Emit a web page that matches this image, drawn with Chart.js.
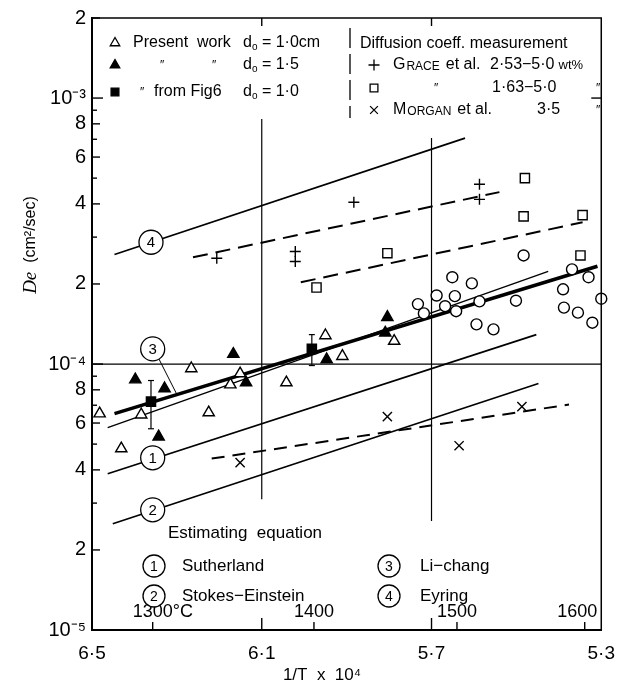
<!DOCTYPE html>
<html>
<head>
<meta charset="utf-8">
<script src="https://cdn.jsdelivr.net/npm/chart.js@4.4.1/dist/chart.umd.min.js"></script>
<style>
  html, body { margin: 0; padding: 0; background: #fff; }
</style>
</head>
<body>
<canvas id="deChart" width="627" height="686"></canvas>
<script>
// De (cm2/sec) against 1/T x 10^4, log y axis

const xTickValues = [6.5, 6.1, 5.7, 5.3];
const xTickLabels = ['6·5', '6·1', '5·7', '5·3'];
const yLabelValues = [1e-5, 2e-5, 4e-5, 6e-5, 8e-5, 1e-4, 2e-4, 4e-4, 6e-4, 8e-4, 1e-3, 2e-3];
const yLabelTexts = ['10⁻⁵', '2', '4', '6', '8', '10⁻⁴', '2', '4', '6', '8', '10⁻³', '2'];
const yMinorValues = [3e-5, 5e-5, 7e-5, 9e-5, 3e-4, 5e-4, 7e-4, 9e-4];
const tempLabels = ['1300°C', '1400', '1500', '1600'];
const tempX = [6.357, 5.977, 5.640, 5.339];

// present work d0 = 1.0cm (open triangles)
const openTriX = [6.482, 6.431, 6.384, 6.266, 6.225, 6.174, 6.151, 6.042, 5.950, 5.910, 5.788];
const openTriY = [6.51e-5, 4.81e-5, 6.45e-5, 9.62e-5, 6.57e-5, 8.37e-5, 9.21e-5, 8.52e-5, 1.28e-4, 1.07e-4, 1.22e-4];
// present work d0 = 1.5 (filled triangles)
const fillTriX = [6.398, 6.329, 6.343, 6.167, 6.137, 5.947, 5.804, 5.809];
const fillTriY = [8.74e-5, 8.09e-5, 5.33e-5, 1.09e-4, 8.52e-5, 1.04e-4, 1.50e-4, 1.31e-4];
// from Fig6 d0 = 1.0 (filled squares with error bars)
const fig6X = [6.361, 5.982];
const fig6Y = [7.22e-5, 1.14e-4];
const fig6Low = [5.71e-5, 9.87e-5];
const fig6High = [8.67e-5, 1.29e-4];
// Grace et al. 2.53-5.0 wt% (+)
const graceX = [6.206, 6.021, 6.021, 5.883, 5.587, 5.587];
const graceY = [2.50e-4, 2.65e-4, 2.43e-4, 4.06e-4, 4.74e-4, 4.16e-4];
// Grace et al. 1.63-5.0 (open squares)
const grace2X = [5.971, 5.804, 5.480, 5.483, 5.344, 5.349];
const grace2Y = [1.94e-4, 2.61e-4, 5.00e-4, 3.59e-4, 3.63e-4, 2.56e-4];
// Morgan et al. 3.5 (x)
const morganX = [6.151, 5.804, 5.635, 5.487];
const morganY = [4.26e-5, 6.34e-5, 4.93e-5, 6.92e-5];
// open circles
const circX = [5.732, 5.718, 5.688, 5.668, 5.651, 5.645, 5.642, 5.605, 5.587, 5.594, 5.554, 5.501, 5.483, 5.390, 5.388, 5.369, 5.355, 5.330, 5.321, 5.300];
const circY = [1.68e-4, 1.55e-4, 1.81e-4, 1.65e-4, 2.12e-4, 1.80e-4, 1.58e-4, 2.01e-4, 1.72e-4, 1.41e-4, 1.35e-4, 1.73e-4, 2.56e-4, 1.91e-4, 1.63e-4, 2.27e-4, 1.56e-4, 2.12e-4, 1.43e-4, 1.76e-4];

// estimating equations and fits (end points)
const eyringX = [6.447, 5.621];      const eyringY = [2.58e-4, 7.07e-4];
const graceFitX = [6.262, 5.540];    const graceFitY = [2.52e-4, 4.43e-4];
const grace2FitX = [6.008, 5.344];   const grace2FitY = [2.03e-4, 3.41e-4];
const morganFitX = [6.218, 5.376];   const morganFitY = [4.41e-5, 7.04e-5];
const sutherlandX = [6.463, 5.453];  const sutherlandY = [3.87e-5, 1.29e-4];
const stokesX = [6.451, 5.448];      const stokesY = [2.51e-5, 8.45e-5];
const lichangX = [6.447, 5.309];     const lichangY = [6.51e-5, 2.33e-4];
const presentFitX = [6.463, 5.425];  const presentFitY = [5.77e-5, 2.23e-4];
// reference lines
const vLine61Y = [8.34e-4, 3.1e-5];
const vLine57Y = [7.07e-4, 2.57e-5];
const hLineX = [6.5, 5.3];           const hLineY = [1e-4, 1e-4];
const leader3X = [6.343, 6.301];     const leader3Y = [1.05e-4, 7.74e-5];
// circled equation numbers on the lines
const numTexts = ['4', '1', '2', '3'];
const numX = [6.361, 6.357, 6.357, 6.357];
const numY = [2.87e-4, 4.44e-5, 2.83e-5, 1.14e-4];

const FONT = "'Liberation Sans', Arial, sans-serif";

const toPts = (xs, ys) => xs.map((x, i) => ({x: x, y: ys[i]}));

function lineSet(xs, ys, width, dash) {
  return {
    type: 'line', data: toPts(xs, ys), borderColor: '#000', borderWidth: width,
    borderDash: dash || [], pointRadius: 0, fill: false, tension: 0, order: 5
  };
}

function pointSet(xs, ys, style, radius, bg) {
  return {
    type: 'scatter', data: toPts(xs, ys), pointStyle: style, pointRadius: radius,
    pointBackgroundColor: bg, pointBorderColor: '#000', pointBorderWidth: 1.4,
    showLine: false, clip: 12, order: 1
  };
}

function txt(ctx, s, x, y, size, align, font) {
  ctx.font = (font || (size + 'px ' + FONT));
  ctx.textAlign = align || 'left';
  ctx.textBaseline = 'middle';
  ctx.fillText(s, x, y);
  return x + ctx.measureText(s).width;
}

function dSub(ctx, x, y, size) {
  let nx = txt(ctx, 'd', x, y, size);
  return txt(ctx, 'o', nx, y + 4, Math.round(size * 0.65));
}

function smallCaps(ctx, word, x, y, big, small) {
  let nx = txt(ctx, word[0], x, y, big);
  return txt(ctx, word.slice(1), nx + 1, y + (big - small) * 0.36, small);
}

function marker(ctx, style, x, y, r, fill) {
  ctx.save();
  ctx.fillStyle = fill;
  ctx.strokeStyle = '#000';
  ctx.lineWidth = 1.3;
  Chart.helpers.drawPoint(ctx, {pointStyle: style, radius: r, rotation: 0, borderWidth: 1.3}, x, y);
  ctx.restore();
}

function circled(ctx, s, x, y, r, size) {
  ctx.beginPath();
  ctx.arc(x, y, r, 0, Math.PI * 2);
  ctx.fillStyle = '#fff';
  ctx.fill();
  ctx.lineWidth = 1.3;
  ctx.strokeStyle = '#000';
  ctx.stroke();
  ctx.fillStyle = '#000';
  txt(ctx, s, x, y + 1, size, 'center');
}

function seg(ctx, x0, y0, x1, y1) {
  ctx.beginPath();
  ctx.moveTo(x0, y0);
  ctx.lineTo(x1, y1);
  ctx.stroke();
}

const decorPlugin = {
  id: 'decor',
  afterDatasetsDraw(chart) {
    const ctx = chart.ctx;
    const ca = chart.chartArea;
    const xs = chart.scales.x, ys = chart.scales.y;
    ctx.save();
    ctx.strokeStyle = '#000';
    ctx.fillStyle = '#000';

    // top and right frame
    ctx.lineWidth = 1.5;
    ctx.beginPath();
    ctx.moveTo(ca.left, ca.top);
    ctx.lineTo(ca.right, ca.top);
    ctx.lineTo(ca.right, ca.bottom);
    ctx.stroke();

    // inward ticks on the left axis
    ctx.lineWidth = 1.4;
    yLabelValues.forEach(v => {
      const lg = Math.log10(v);
      const len = Math.abs(lg - Math.round(lg)) < 1e-6 ? 11 : 8;
      const py = ys.getPixelForValue(v);
      seg(ctx, ca.left, py, ca.left + len, py);
    });
    yMinorValues.forEach(v => {
      const py = ys.getPixelForValue(v);
      seg(ctx, ca.left, py, ca.left + 5, py);
    });
    // right axis tick at 10^-3
    const p3 = ys.getPixelForValue(1e-3);
    seg(ctx, ca.right, p3, ca.right - 10, p3);

    // top and bottom ticks at inner x labels
    xTickValues.slice(1, -1).forEach(v => {
      const px = xs.getPixelForValue(v);
      seg(ctx, px, ca.top, px, ca.top + 8);
      seg(ctx, px, ca.bottom, px, ca.bottom - 12);
    });

    // temperature scale
    tempX.forEach((v, i) => {
      const px = xs.getPixelForValue(v);
      seg(ctx, px, ca.bottom, px, ca.bottom - 8);
      ctx.font = '18px ' + FONT;
      const num = tempLabels[i].replace('°C', '');
      let left = px - ctx.measureText(num).width / 2;
      const full = ctx.measureText(tempLabels[i]).width;
      if (left + full > ca.right - 4) left = ca.right - 4 - full;
      txt(ctx, tempLabels[i], left, ca.bottom - 18, 18);
    });

    // error bars for Fig6 squares
    ctx.lineWidth = 1.2;
    fig6X.forEach((v, i) => {
      const px = xs.getPixelForValue(v);
      const lo = ys.getPixelForValue(fig6Low[i]);
      const hi = ys.getPixelForValue(fig6High[i]);
      seg(ctx, px, lo, px, hi);
      seg(ctx, px - 3, lo, px + 3, lo);
      seg(ctx, px - 3, hi, px + 3, hi);
    });

    // circled numbers on the lines
    numTexts.forEach((s, i) => {
      circled(ctx, s, xs.getPixelForValue(numX[i]), ys.getPixelForValue(numY[i]), 12, 15);
    });

    // legend, top left
    ctx.fillStyle = '#000';
    marker(ctx, 'triangle', 115, 43, 5.5, '#fff');
    txt(ctx, 'Present  work', 133, 43, 16);
    let nx = dSub(ctx, 243, 43, 16);
    txt(ctx, ' = 1·0cm', nx, 43, 16);
    marker(ctx, 'triangle', 115, 65, 5.5, '#000');
    txt(ctx, '″', 160, 66, 12);
    txt(ctx, '″', 212, 66, 12);
    nx = dSub(ctx, 243, 65, 16);
    txt(ctx, ' = 1·5', nx, 65, 16);
    marker(ctx, 'rect', 115, 92, 5.5, '#000');
    txt(ctx, '″', 140, 93, 12);
    txt(ctx, 'from Fig6', 154, 92, 16);
    nx = dSub(ctx, 243, 92, 16);
    txt(ctx, ' = 1·0', nx, 92, 16);

    // legend, top right
    ctx.lineWidth = 1.3;
    ctx.setLineDash([20, 6]);
    seg(ctx, 350, 28, 350, 118);
    ctx.setLineDash([]);
    txt(ctx, 'Diffusion coeff. measurement', 360, 44, 16);
    marker(ctx, 'cross', 374, 65, 5.5, '#000');
    nx = smallCaps(ctx, 'GRACE', 393, 65, 16, 12);
    txt(ctx, 'et al.', nx + 6, 65, 16);
    nx = txt(ctx, '2·53−5·0', 490, 65, 16);
    txt(ctx, 'wt%', nx + 4, 65, 13);
    marker(ctx, 'rect', 374, 88, 5.5, '#fff');
    txt(ctx, '″', 434, 89, 12);
    txt(ctx, '1·63−5·0', 492, 88, 16);
    txt(ctx, '″', 596, 89, 12);
    marker(ctx, 'crossRot', 374, 110, 5.5, '#000');
    nx = smallCaps(ctx, 'MORGAN', 393, 110, 16, 12);
    txt(ctx, 'et al.', nx + 6, 110, 16);
    txt(ctx, '3·5', 537, 110, 16);
    txt(ctx, '″', 596, 111, 12);

    // legend, estimating equations
    txt(ctx, 'Estimating  equation', 168, 533, 17);
    circled(ctx, '1', 154, 566, 11, 14);
    txt(ctx, 'Sutherland', 182, 566, 17);
    circled(ctx, '2', 154, 596, 11, 14);
    txt(ctx, 'Stokes−Einstein', 182, 596, 17);
    circled(ctx, '3', 389, 566, 11, 14);
    txt(ctx, 'Li−chang', 420, 566, 17);
    circled(ctx, '4', 389, 596, 11, 14);
    txt(ctx, 'Eyring', 420, 596, 17);

    // axis titles
    ctx.fillStyle = '#000';
    txt(ctx, '1/T  x  10⁴', 322, 675, 17, 'center');
    ctx.translate(31, 245);
    ctx.rotate(-Math.PI / 2);
    ctx.font = 'italic 19px "Liberation Serif", serif';
    const w1 = ctx.measureText('De').width;
    ctx.font = '16px ' + FONT;
    const w2 = ctx.measureText('  (cm²/sec)').width;
    let sx = -(w1 + w2) / 2;
    sx = txt(ctx, 'De', sx, 0, 19, 'left', 'italic 19px "Liberation Serif", serif');
    txt(ctx, '  (cm²/sec)', sx, 0, 16);
    ctx.restore();
  }
};

const ctx = document.getElementById('deChart').getContext('2d');

new Chart(ctx, {
  type: 'scatter',
  data: {
    datasets: [
      lineSet([6.1, 6.1], vLine61Y, 1.2),
      lineSet([5.7, 5.7], vLine57Y, 1.2),
      lineSet(hLineX, hLineY, 1.2),
      lineSet(eyringX, eyringY, 1.7),
      lineSet(graceFitX, graceFitY, 2, [15, 8]),
      lineSet(grace2FitX, grace2FitY, 2, [15, 8]),
      lineSet(morganFitX, morganFitY, 2, [13, 8]),
      lineSet(sutherlandX, sutherlandY, 1.7),
      lineSet(stokesX, stokesY, 1.7),
      lineSet(presentFitX, presentFitY, 1.4),
      lineSet(lichangX, lichangY, 3.6),
      lineSet(leader3X, leader3Y, 1),
      pointSet(openTriX, openTriY, 'triangle', 6.5, '#fff'),
      pointSet(fillTriX, fillTriY, 'triangle', 6.5, '#000'),
      pointSet(fig6X, fig6Y, 'rect', 6.5, '#000'),
      pointSet(graceX, graceY, 'cross', 5.5, '#000'),
      pointSet(grace2X, grace2Y, 'rect', 6.5, '#fff'),
      pointSet(morganX, morganY, 'crossRot', 6.5, '#000'),
      pointSet(circX, circY, 'circle', 5.5, '#fff')
    ]
  },
  options: {
    responsive: false,
    animation: false,
    layout: { padding: { left: 0, right: 16, top: 18, bottom: 0 } },
    plugins: {
      legend: { display: false },
      tooltip: { enabled: false }
    },
    scales: {
      x: {
        type: 'linear', reverse: true, min: 5.3, max: 6.5, bounds: 'data',
        afterBuildTicks: s => { s.ticks = xTickValues.map(v => ({value: v})); },
        afterFit: s => { s.height = 56; },
        ticks: {
          autoSkip: false, maxRotation: 0, padding: 12, color: '#000',
          font: { family: FONT, size: 19 },
          callback: (v, i) => xTickLabels[i]
        },
        grid: { display: false, drawTicks: false },
        border: { display: true, color: '#000', width: 2 }
      },
      y: {
        type: 'logarithmic', min: 1e-5, max: 2e-3, bounds: 'data',
        afterBuildTicks: s => { s.ticks = yLabelValues.map(v => ({value: v})); },
        afterFit: s => { s.width = 92; },
        ticks: {
          autoSkip: false, padding: 6, color: '#000',
          font: { family: FONT, size: 20 },
          callback: (v, i) => yLabelTexts[i]
        },
        grid: { display: false, drawTicks: false },
        border: { display: true, color: '#000', width: 2 }
      }
    }
  },
  plugins: [decorPlugin]
});
</script>
</body>
</html>
